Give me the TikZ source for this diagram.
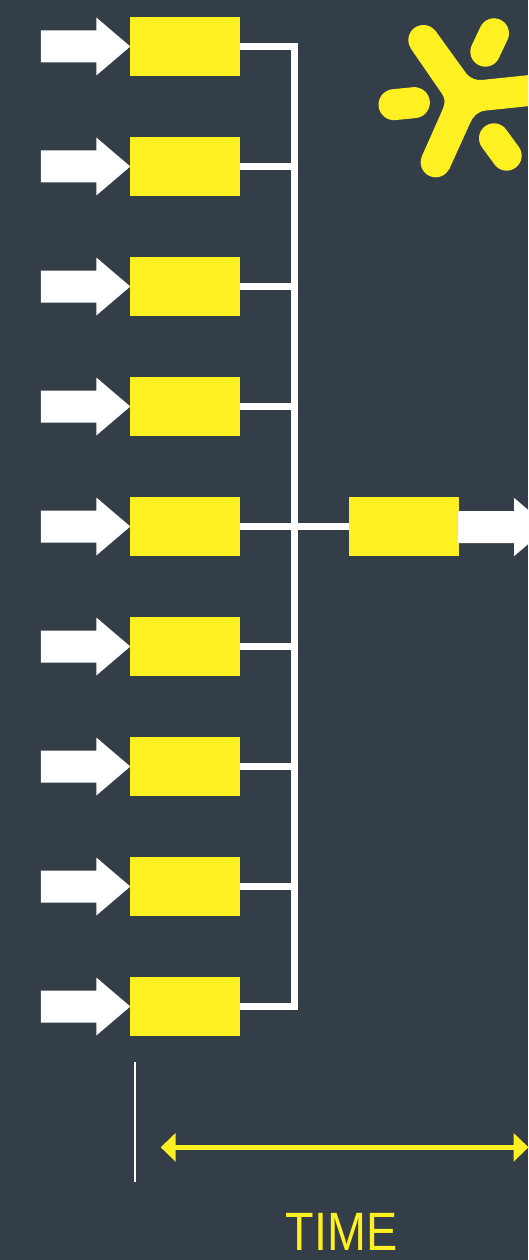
\documentclass[tikz,border=0pt]{standalone}
\usepackage{fontspec}
\setmainfont{Liberation Sans}
\usetikzlibrary{arrows.meta,calc}
\definecolor{bgc}{HTML}{333E48}
\definecolor{yel}{HTML}{FFF021}
\tikzset{
  box/.style={fill=yel,inner sep=0pt,minimum width=110pt,minimum height=59pt},
  conn/.style={draw=white,line width=7pt,miter limit=10},
  blockarrow/.style={fill=white},
  pill/.style={draw=yel,line width=30pt,line cap=round},
  timearrow/.style={draw=yel,line width=4.6pt,{Triangle[length=15pt,width=28pt,fill=yel]}-{Triangle[length=15pt,width=28pt,fill=yel]}},
  timelabel/.style={text=yel,font=\fontsize{54}{54}\selectfont,inner sep=0pt,anchor=base,xscale=0.865},
  tick/.style={draw=white,line width=2pt}
}
\begin{document}
\begin{tikzpicture}[x=1pt,y=-1pt]
\useasboundingbox (0,0) rectangle (528,1260);
\clip (0,0) rectangle (528,1260);
\fill[bgc] (0,0) rectangle (528,1260);
% input boxes
\foreach \i in {1,...,9}{
  \node[box] (b\i) at (185,{46.5+120*(\i-1)}) {};
}
\node[box] (out) at (404,526.5) {};
% bus
\coordinate (busTop) at (294,46.5);
\coordinate (busBot) at (294,1006.5);
\draw[conn] (b1.east) -- (busTop) -- (busBot) -- (b9.east);
\foreach \i in {2,...,9}{
  \draw[conn] (b\i.east) -- (b\i.east -| busTop);
}
\draw[conn] (b5.east) -- (out.west);
% block arrows
\foreach \i in {1,...,9}{
  \fill[blockarrow] ($(b\i.west)+(0.5,0)$) -- ++(-34,-29) -- ++(0,13) -- ++(-55.5,0) -- ++(0,32) -- ++(55.5,0) -- ++(0,13) -- cycle;
}
\fill[blockarrow] ($(out.east)+(-1,-15.5)$) -- ++(56,0) -- ++(0,-13) -- ++(34,29) -- ++(-34,29) -- ++(0,-13) -- ++(-56,0) -- cycle;
% logo
\begin{scope}[shift={(370,0)},x=0.3333pt,y=-0.3333pt]
  \fill[yel] (196,92) -- (290,222) .. controls (303,236) and (318,241) .. (335,240)
    -- (480,225) -- (480,318) -- (345,332) .. controls (322,335) and (309,350) .. (300,370)
    -- (238,507) -- (156,468) -- (215,335) .. controls (228,305) and (225,295) .. (215,280)
    -- (124,148) -- cycle;
  \fill[yel] (160,120) circle[radius=45];
  \fill[yel] (197,487) circle[radius=45];
  \draw[pill] (372,100) -- (346,155);
  \draw[pill,line width=31pt] (72,314) -- (133,308);
  \draw[pill] (372,415) -- (410,467);
\end{scope}
% time
\coordinate (tickTop) at (134.7,1062);
\coordinate (tickBot) at (134.7,1181.7);
\draw[tick] (tickTop) -- (tickBot);
\coordinate (timeL) at (160.7,1147.3);
\coordinate (timeR) at (528.5,1147.3);
\draw[timearrow] (timeL) -- (timeR);
\node[timelabel] (timetext) at (341.5,1250) {TIME};
\end{tikzpicture}
\end{document}
